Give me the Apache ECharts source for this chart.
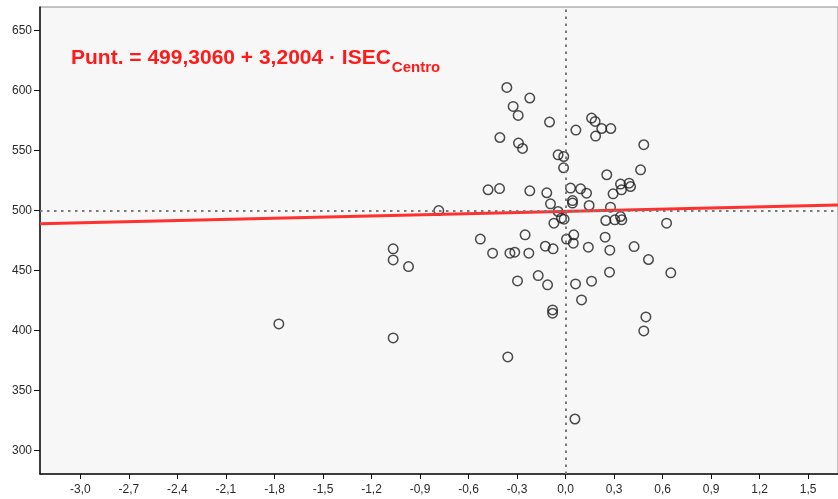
<!DOCTYPE html>
<html>
<head>
<meta charset="utf-8">
<script src="https://cdn.jsdelivr.net/npm/echarts@6/dist/echarts.min.js"></script>
<style>
html,body{margin:0;padding:0;background:#fff;}
#c{width:838px;height:499px;}
</style>
</head>
<body>
<div id="c"></div>
<script>
// ISEC (centro) values
var isec = [-1.773,-1.066,-1.066,-1.066,-0.971,-0.784,-0.357,0.058,-0.363,-0.221,-0.324,-0.293,-0.406,-0.291,-0.266,-0.479,-0.408,-0.221,-0.099,0.064,0.161,0.183,0.224,0.280,0.186,0.484,-0.046,-0.011,-0.012,0.464,0.255,-0.116,0.031,0.093,0.130,0.340,0.393,0.402,0.346,0.294,-0.093,0.043,0.043,0.146,0.278,-0.046,-0.025,-0.009,-0.072,0.249,0.305,0.340,0.348,0.625,0.051,0.006,0.048,0.245,-0.125,-0.077,0.141,0.274,0.424,0.513,0.272,0.651,-0.169,-0.111,0.062,0.161,0.099,-0.080,-0.080,0.497,0.484,-0.527,-0.250,-0.451,-0.344,-0.314,-0.227,-0.297];
// Puntuación values
var punt = [405.6,393.9,468.1,458.9,453.3,500.0,378.1,326.4,602.5,593.7,586.7,579.2,560.8,556.2,551.7,517.3,518.3,516.4,573.7,567.0,577.0,574.2,568.3,568.3,562.0,554.8,546.4,545.0,535.6,533.9,529.8,514.8,518.7,518.1,514.5,522.0,522.8,520.0,517.25,513.9,505.6,508.3,506.2,504.2,502.8,499.2,493.7,492.8,489.5,491.7,492.25,495.0,492.25,489.5,479.75,476.2,472.8,477.8,470.3,468.1,469.5,467.0,470.0,459.2,448.7,448.1,445.8,438.1,438.9,441.2,425.6,417.25,414.5,411.4,399.75,476.2,479.75,464.5,464.5,465.3,464.5,441.4];
var intercept = 499.3060;
var slope = 3.2004;
var meanPunt = 499.75;
var xTicks = [-3.0,-2.7,-2.4,-2.1,-1.8,-1.5,-1.2,-0.9,-0.6,-0.3,0.0,0.3,0.6,0.9,1.2,1.5];
var yTicks = [300,350,400,450,500,550,600,650];
var xMin = -3.25, xMax = 1.685;
var yMin = 280.6, yMax = 669.5;

var pts = isec.map(function(v,i){return [v,punt[i]];});
var fit = [[xMin, intercept + slope*xMin],[xMax, intercept + slope*xMax]];

var chart = echarts.init(document.getElementById('c'));
var fontMain = 'bold 21px "Liberation Sans", Arial, sans-serif';
var cv = document.createElement('canvas').getContext('2d');
cv.font = fontMain;
var mainText = 'Punt. = 499,3060 + 3,2004 · ISEC';
var mw = cv.measureText(mainText).width;

chart.setOption({
  animation:false,
  backgroundColor:'#ffffff',
  grid:{left:40,right:0,top:7,bottom:25,show:true,backgroundColor:'#f7f7f7',borderColor:'#8a8a8a',borderWidth:1},
  xAxis:{type:'value',min:xMin,max:xMax,
    axisLine:{show:true,onZero:false,lineStyle:{color:'#111',width:1.5}},
    axisTick:{show:true,length:5,customValues:xTicks,lineStyle:{color:'#111',width:1}},
    axisLabel:{customValues:xTicks,margin:10,fontSize:12,color:'#2a2a2a',fontFamily:'"Liberation Sans", Arial, sans-serif',
      formatter:function(v){return v.toFixed(1).replace('.',',');}},
    splitLine:{show:false}},
  yAxis:{type:'value',min:yMin,max:yMax,
    axisLine:{show:true,onZero:false,lineStyle:{color:'#111',width:1.5}},
    axisTick:{show:true,length:6,customValues:yTicks,lineStyle:{color:'#111',width:1}},
    axisLabel:{customValues:yTicks,margin:8,fontSize:12,color:'#2a2a2a',fontFamily:'"Liberation Sans", Arial, sans-serif'},
    splitLine:{show:false}},
  series:[
    {type:'line',data:[],silent:true,
      markLine:{silent:true,symbol:'none',label:{show:false},
        lineStyle:{color:'#7a7a7a',width:2,type:[2.5,4.5]},
        data:[{xAxis:0},{yAxis:meanPunt}]}},
    {type:'scatter',data:pts,symbol:'circle',symbolSize:9.5,z:3,
      itemStyle:{color:'rgba(0,0,0,0)',borderColor:'#1e1e1e',borderWidth:1.5}},
    {type:'line',data:fit,symbol:'none',z:4,lineStyle:{color:'#ff3030',width:3}}
  ],
  graphic:[
    {type:'text',left:71,top:48,z:10,style:{text:mainText,font:fontMain,fill:'#ff1a1a'}},
    {type:'text',left:71+mw+1,top:60,z:10,style:{text:'Centro',font:'bold 15px "Liberation Sans", Arial, sans-serif',fill:'#ff1a1a'}}
  ]
});
</script>
</body>
</html>
